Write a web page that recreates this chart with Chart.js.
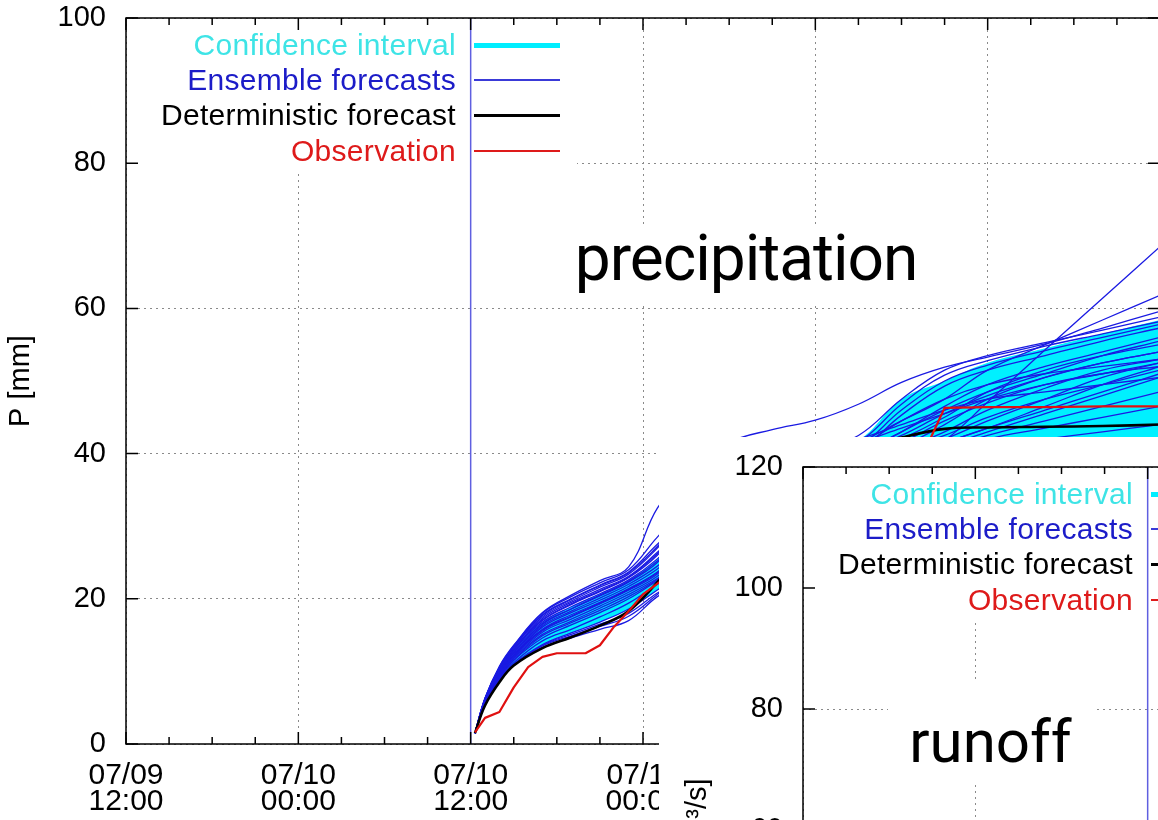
<!DOCTYPE html>
<html>
<head>
<meta charset="utf-8">
<script src="https://cdn.jsdelivr.net/npm/chart.js@4.4.1/dist/chart.umd.min.js"></script>
<style>
  html, body { margin: 0; padding: 0; background: #fff; overflow: hidden; }
  #stage { position: relative; width: 1158px; height: 820px; overflow: hidden; background: #fff; }
  .panel { position: absolute; width: 1170px; height: 820px; }
  .panel canvas { position: absolute; left: 0; top: 0; }
  .key-text { position: absolute; left: 0; width: 456px; text-align: right; white-space: nowrap;
    font-family: 'Liberation Sans', Arial, sans-serif; font-size: 30px; letter-spacing: 0.3px; line-height: 34px; }
  .key-line { position: absolute; left: 474px; width: 86px; }
  .inset { position: absolute; left: 659px; top: 437px; width: 499px; height: 383px; overflow: hidden; background: #fff; }
  .tag { position: absolute; background: #fff; text-align: center; color: #000;
    font-family: Roboto, 'Liberation Sans', sans-serif; white-space: nowrap; }
</style>
</head>
<body>
<div id="stage">
  <div class="panel" id="mainPanel" style="left:0;top:0">
    <canvas id="mainChart" width="1170" height="820"></canvas>
  </div>
  <div class="tag" style="left:558px;top:226px;width:376px;height:80px;font-size:64px;line-height:66px;letter-spacing:-1px">precipitation</div>
  <div class="inset">
    <div class="panel" id="insetPanel" style="left:18px;top:12px">
      <canvas id="insetChart" width="1170" height="820"></canvas>
    </div>
  </div>
  <div class="tag" style="left:888px;top:679px;width:205px;height:106px;font-size:60px;line-height:125px">runoff</div>
</div>
<script>
// hours counted from 07/09 12:00
const hours = [24.3, 25, 26, 27, 29, 31, 33, 35, 37, 39, 42, 45, 48, 51, 54, 57, 60, 64, 68, 72]
const xTickLabels = [
  ['07/09', '12:00'], ['07/10', '00:00'], ['07/10', '12:00'], ['07/11', '00:00'],
  ['07/11', '12:00'], ['07/12', '00:00'], ['07/12', '12:00']
]
const forecastStart = 24

// cumulative precipitation [mm], one row per ensemble member
const ensemble = [
  [1.5, 6.3, 10.7, 13.6, 18.1, 20.5, 22.5, 24.4, 32.5, 37.0, 41.5, 43.3, 44.6, 46.8, 49.8, 51.9, 53.3, 55.1, 57.3, 59.6],
  [1.5, 6.3, 10.6, 13.5, 18.0, 20.3, 22.2, 24.0, 28.5, 32.5, 36.0, 38.5, 40.5, 42.5, 47.5, 51.5, 53.5, 55.3, 57.0, 58.8],
  [1.5, 6.2, 10.3, 13.3, 17.5, 19.7, 21.6, 23.4, 27.0, 31.5, 35.0, 37.8, 40.0, 41.6, 46.8, 50.8, 52.8, 54.8, 56.5, 58.2],
  [1.5, 6.1, 10.0, 13.0, 17.0, 19.2, 21.0, 22.9, 26.0, 30.5, 34.5, 37.2, 39.5, 41.0, 46.0, 50.0, 52.2, 54.2, 56.0, 57.8],
  [1.5, 6.0, 9.9, 12.7, 16.6, 18.6, 20.4, 22.3, 25.0, 29.5, 34.0, 36.8, 39.0, 40.5, 45.3, 49.3, 51.5, 53.5, 55.5, 57.3],
  [1.5, 5.8, 9.5, 12.1, 15.6, 17.5, 19.3, 21.2, 23.4, 27.5, 33.0, 37.0, 39.5, 41.5, 44.5, 47.5, 51.5, 55.0, 58.4, 61.8],
  [1.5, 5.7, 9.3, 11.8, 15.1, 16.9, 18.7, 20.6, 22.8, 25.5, 30.0, 33.5, 35.5, 37.0, 38.5, 41.8, 47.1, 54.3, 61.4, 68.5],
  [1.5, 6.2, 10.1, 13.1, 17.3, 19.5, 21.3, 23.1, 26.4, 30.0, 33.0, 36.5, 38.5, 40.0, 43.0, 46.5, 49.5, 52.0, 54.0, 56.0],
  [1.5, 6.0, 9.7, 12.5, 16.3, 18.3, 20.1, 22.0, 24.5, 28.0, 32.0, 35.5, 38.0, 39.5, 42.0, 45.0, 48.5, 51.5, 53.5, 55.0],
  [1.5, 5.9, 9.7, 12.3, 16.1, 18.1, 19.8, 21.7, 24.1, 27.5, 31.5, 35.0, 37.5, 39.0, 41.0, 44.0, 47.5, 50.5, 52.5, 54.0],
  [1.5, 5.9, 9.5, 12.2, 15.8, 17.8, 19.5, 21.4, 23.7, 27.0, 31.0, 34.5, 37.0, 38.5, 40.5, 43.0, 46.0, 49.0, 51.5, 53.0],
  [1.5, 5.8, 9.4, 11.9, 15.4, 17.2, 19.0, 20.9, 23.1, 26.5, 30.5, 34.0, 36.5, 38.0, 40.0, 42.0, 44.5, 47.5, 50.5, 52.5],
  [1.5, 5.6, 9.0, 11.5, 14.6, 16.4, 18.1, 20.0, 22.5, 25.0, 30.0, 33.5, 36.0, 37.5, 39.5, 41.5, 43.5, 46.5, 49.5, 52.0],
  [1.5, 5.5, 8.9, 11.2, 14.2, 15.8, 17.5, 19.4, 22.0, 24.5, 29.5, 33.0, 35.5, 37.0, 39.0, 41.0, 43.0, 45.5, 48.0, 50.5],
  [1.5, 5.4, 8.7, 11.0, 13.7, 15.3, 16.8, 18.6, 21.2, 24.0, 29.0, 32.5, 35.0, 36.5, 38.5, 40.5, 42.5, 44.5, 46.5, 48.5],
  [1.5, 5.4, 8.6, 10.9, 13.5, 14.9, 16.2, 17.6, 20.6, 23.5, 28.5, 32.0, 34.5, 36.0, 38.0, 40.0, 42.0, 43.5, 45.0, 46.5],
  [1.5, 6.3, 10.5, 13.4, 17.8, 20.0, 21.9, 23.7, 27.5, 31.0, 34.0, 37.5, 40.0, 41.5, 43.5, 45.5, 47.5, 49.5, 51.0, 52.5],
  [1.5, 6.1, 9.9, 12.9, 16.8, 18.9, 20.7, 22.6, 25.5, 29.5, 33.0, 36.5, 39.0, 41.0, 44.5, 47.5, 49.5, 51.0, 52.0, 53.0],
  [1.5, 5.4, 8.6, 10.8, 13.3, 14.6, 15.8, 17.0, 20.3, 22.5, 27.5, 31.5, 34.5, 36.5, 38.0, 39.5, 41.0, 42.0, 43.0, 44.0],
  [1.5, 5.4, 8.6, 10.9, 13.6, 15.1, 16.5, 18.0, 20.8, 23.0, 28.0, 32.0, 35.0, 37.5, 39.5, 41.5, 43.5, 46.0, 48.5, 51.0],
  [1.5, 6.2, 10.5, 13.4, 17.7, 19.9, 21.8, 23.6, 27.2, 31.5, 34.5, 38.0, 40.5, 42.0, 44.0, 46.0, 47.5, 48.5, 49.5, 50.5],
  [1.5, 6.0, 9.8, 12.6, 16.5, 18.6, 20.5, 22.4, 25.2, 29.0, 33.5, 36.5, 38.5, 40.0, 42.5, 45.5, 48.0, 50.5, 52.5, 54.0],
  [1.5, 5.8, 9.5, 12.1, 15.7, 17.6, 19.4, 21.3, 23.6, 27.0, 31.5, 34.5, 37.0, 39.0, 41.5, 44.5, 47.0, 49.5, 51.0, 52.0],
  [1.5, 5.6, 9.2, 11.6, 14.9, 16.7, 18.4, 20.3, 22.7, 26.0, 31.0, 34.5, 37.5, 40.0, 43.0, 46.0, 48.5, 51.0, 53.5, 55.5],
  [1.5, 6.1, 10.1, 13.0, 17.1, 19.3, 21.1, 23.0, 26.2, 30.0, 34.0, 36.5, 38.0, 39.0, 40.5, 42.5, 45.0, 47.5, 49.5, 51.5]
]
const ciUpper = [1.5, 6.0, 9.9, 12.9, 16.8, 18.9, 20.7, 22.6, 25.5, 30.0, 34.5, 37.5, 40.0, 41.8, 47.5, 50.0, 52.5, 54.5, 56.5, 58.4]
const ciLower = [1.5, 5.4, 8.7, 11.0, 13.7, 15.3, 16.8, 18.6, 21.2, 24.5, 29.5, 33.0, 35.5, 37.0, 38.5, 40.0, 40.5, 41.0, 41.5, 42.0]
const deterministic = [1.5, 5.3, 8.5, 10.8, 13.2, 14.7, 16.3, 18.3, 22.3, 27.0, 33.0, 37.5, 40.0, 40.5, 42.2, 43.4, 43.6, 43.7, 43.8, 44.0]

const obsHours = [24.3, 25, 26, 27, 28, 29, 30, 31, 32, 33, 34, 35, 36, 37, 38, 40, 44, 48, 52, 55, 56, 57, 60, 64, 68, 72]
const observation = [1.6, 3.6, 4.4, 7.8, 10.6, 12.0, 12.5, 12.5, 12.5, 13.6, 16.2, 18.3, 20.6, 22.1, 23.5, 26.5, 31.5, 36.0, 39.5, 41.0, 42.0, 46.3, 46.4, 46.4, 46.5, 46.5]

const keyLabels = ['Confidence interval', 'Ensemble forecasts', 'Deterministic forecast', 'Observation']
const keyTextColors = ['#3ee4e6', '#1c1cc8', '#000000', '#de1a1a']
const keyLineColors = ['#00eeff', '#3a3ad8', '#000000', '#de1a1a']
const keyLineWidths = [5, 1.5, 3, 2]
const keyRows = [45, 80, 115, 151]

const pts = (xs, ys) => ys.map((v, i) => ({ x: xs[i], y: v }))

// gnuplot style frame: opaque key box, inward ticks, full border
const frame = {
  id: 'frame',
  beforeDatasetsDraw(chart) {
    const a = chart.chartArea
    const ctx = chart.ctx
    ctx.save()
    ctx.fillStyle = '#fff'
    ctx.fillRect(a.left + 1, a.top + 1, 450, 151)
    ctx.restore()
  },
  afterDraw(chart) {
    const { ctx, chartArea: a } = chart
    const x = chart.scales.x
    const y = chart.scales.y
    ctx.save()
    ctx.strokeStyle = '#000'
    ctx.lineWidth = 1.5
    ctx.beginPath()
    for (let h = x.min; h <= x.max; h += 3) {
      const px = x.getPixelForValue(h)
      const len = h % 12 === 0 ? 12 : 7
      ctx.moveTo(px, a.bottom); ctx.lineTo(px, a.bottom - len)
      ctx.moveTo(px, a.top); ctx.lineTo(px, a.top + len)
    }
    for (let v = y.min; v <= y.max; v += 20) {
      const py = y.getPixelForValue(v)
      ctx.moveTo(a.left, py); ctx.lineTo(a.left + 12, py)
      ctx.moveTo(a.right, py); ctx.lineTo(a.right - 12, py)
    }
    ctx.stroke()
    ctx.strokeRect(a.left, a.top, a.right - a.left, a.bottom - a.top)
    ctx.restore()
  }
}

function addKey(panel) {
  keyLabels.forEach((label, i) => {
    const t = document.createElement('div')
    t.className = 'key-text'
    t.textContent = label
    t.style.color = keyTextColors[i]
    t.style.top = (keyRows[i] - 17) + 'px'
    panel.appendChild(t)
    const l = document.createElement('div')
    l.className = 'key-line'
    l.style.background = keyLineColors[i]
    l.style.height = keyLineWidths[i] + 'px'
    l.style.top = (keyRows[i] - keyLineWidths[i] / 2) + 'px'
    panel.appendChild(l)
  })
}

function makeChart(canvasId, yMax, yTitle, datasets) {
  const startLine = {
    data: [{ x: forecastStart, y: 0 }, { x: forecastStart, y: yMax }],
    borderColor: '#5f5fe0', borderWidth: 1.5, tension: 0, order: 6
  }
  return new Chart(document.getElementById(canvasId), {
    type: 'line',
    data: { datasets: [...datasets, startLine] },
    options: {
      responsive: false,
      animation: false,
      layout: { padding: { top: 18, right: 10, left: 0, bottom: 0 } },
      elements: { point: { radius: 0 }, line: { borderJoinStyle: 'round', tension: 0.4 } },
      plugins: { legend: { display: false }, tooltip: { enabled: false } },
      scales: {
        x: {
          type: 'linear', min: 0, max: 72,
          afterFit: (s) => { s.height = 76; s.paddingLeft = 0; s.paddingRight = 0 },
          border: { display: false, dash: [2, 4] },
          grid: { color: '#8a8a8a', lineWidth: 1, drawTicks: false },
          ticks: {
            stepSize: 12, autoSkip: false, maxRotation: 0, padding: 19, color: '#000',
            font: { family: "'Liberation Sans', Arial, sans-serif", size: 30, lineHeight: 0.87 },
            callback: (v) => xTickLabels[Math.round(v / 12)]
          }
        },
        y: {
          min: 0, max: yMax,
          afterFit: (s) => { s.width = 126; s.paddingTop = 0; s.paddingBottom = 0 },
          border: { display: false, dash: [2, 4] },
          grid: { color: '#8a8a8a', lineWidth: 1, drawTicks: false },
          ticks: {
            stepSize: 20, padding: 20, color: '#000',
            font: { family: "'Liberation Sans', Arial, sans-serif", size: 29 }
          },
          title: {
            display: true, text: yTitle, color: '#000', padding: { top: 4, bottom: 0 },
            font: { family: "'Liberation Sans', Arial, sans-serif", size: 29 }
          }
        }
      }
    },
    plugins: [frame]
  })
}

const precipSets = [
  { data: pts(obsHours, observation), borderColor: '#e01010', borderWidth: 2.2, tension: 0, order: 1 },
  { data: pts(hours, deterministic), borderColor: '#000', borderWidth: 2.6, order: 2 },
  ...ensemble.map(m => ({
    data: pts(hours, m), borderColor: '#1a1ae2', borderWidth: 1.3, order: 3
  })),
  { data: pts(hours, ciUpper), borderWidth: 0, borderColor: 'rgba(0,0,0,0)', backgroundColor: '#00f0ff',
    fill: '+1', order: 4 },
  { data: pts(hours, ciLower), borderWidth: 0, borderColor: 'rgba(0,0,0,0)', fill: false, order: 5 }
]

makeChart('mainChart', 100, 'P [mm]', precipSets)
addKey(document.getElementById('mainPanel'))

makeChart('insetChart', 120, 'Q [m³/s]', [])
addKey(document.getElementById('insetPanel'))
</script>
</body>
</html>
